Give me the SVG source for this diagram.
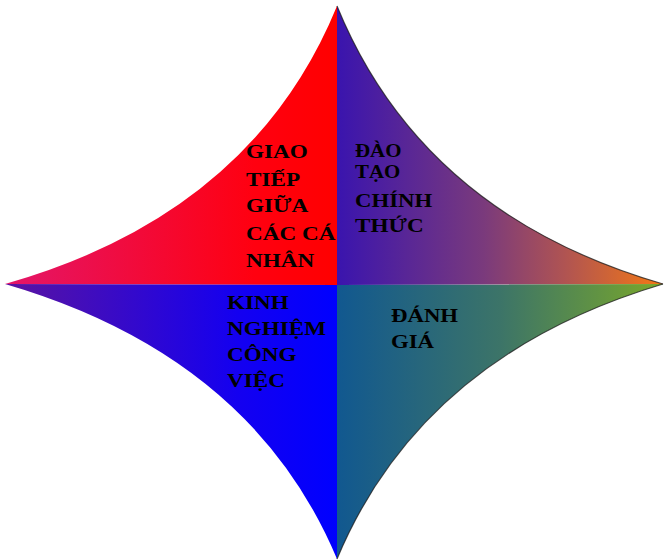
<svg xmlns="http://www.w3.org/2000/svg" width="664" height="560" viewBox="0 0 664 560">
  <defs>
    <linearGradient id="gTL" gradientUnits="userSpaceOnUse" x1="5" y1="0" x2="337" y2="0">
      <stop offset="0" stop-color="#e3166a"/>
      <stop offset="0.75" stop-color="#ff0010"/>
      <stop offset="1" stop-color="#ff0000"/>
    </linearGradient>
    <linearGradient id="gTR" gradientUnits="userSpaceOnUse" x1="337" y1="0" x2="663" y2="0">
      <stop offset="0" stop-color="#3a14ae"/>
      <stop offset="0.45" stop-color="#7a3a7c"/>
      <stop offset="0.7" stop-color="#b05452"/>
      <stop offset="1" stop-color="#f47814"/>
    </linearGradient>
    <linearGradient id="gBL" gradientUnits="userSpaceOnUse" x1="5" y1="0" x2="337" y2="0">
      <stop offset="0" stop-color="#5a14a0"/>
      <stop offset="0.7" stop-color="#1400f0"/>
      <stop offset="1" stop-color="#0000ff"/>
    </linearGradient>
    <linearGradient id="gBR" gradientUnits="userSpaceOnUse" x1="337" y1="0" x2="663" y2="0">
      <stop offset="0" stop-color="#115890"/>
      <stop offset="0.5" stop-color="#3c7468"/>
      <stop offset="1" stop-color="#7aa82a"/>
    </linearGradient>
  </defs>
  <style>
    .lbl { font-family: "Liberation Serif", "Times New Roman", serif; font-weight: bold; font-size: 19px; fill: #000000; }
    .edge { fill: none; stroke: #1a1a1a; stroke-width: 1.2; stroke-opacity: 0.75; }
  </style>
  <rect width="664" height="560" fill="#ffffff"/>

  <g id="node-giao-tiep">
    <path d="M337,285 L5,284 Q252,214 337,6 Z" fill="url(#gTL)"/>
    <text class="lbl" transform="matrix(1.22 0 0 1 246 158)">GIAO</text>
    <text class="lbl" transform="matrix(1.22 0 0 1 246 186)">TIẾP</text>
    <text class="lbl" transform="matrix(1.22 0 0 1 246 212)">GIỮA</text>
    <text class="lbl" transform="matrix(1.22 0 0 1 246 240)">CÁC CÁ</text>
    <text class="lbl" transform="matrix(1.22 0 0 1 246 267)">NHÂN</text>
  </g>

  <g id="node-dao-tao">
    <path d="M337,285 L337,6 Q422,214 663,284 Z" fill="url(#gTR)"/>
    <path class="edge" d="M337,6 Q422,214 663,284"/>
    <text class="lbl" transform="matrix(1.1 0 0 1 355 157)">ĐÀO</text>
    <text class="lbl" transform="matrix(1.1 0 0 1 355 178)">TẠO</text>
    <text class="lbl" transform="matrix(1.2 0 0 1 355 207)">CHÍNH</text>
    <text class="lbl" transform="matrix(1.22 0 0 1 355 232)">THỨC</text>
  </g>

  <g id="node-kinh-nghiem">
    <path d="M337,285 L337,559 Q252,356 5,284 Z" fill="url(#gBL)"/>
    <text class="lbl" transform="matrix(1.22 0 0 1 227 309)">KINH</text>
    <text class="lbl" transform="matrix(1.22 0 0 1 227 335)">NGHIỆM</text>
    <text class="lbl" transform="matrix(1.22 0 0 1 227 361)">CÔNG</text>
    <text class="lbl" transform="matrix(1.22 0 0 1 227 387)">VIỆC</text>
  </g>

  <g id="node-danh-gia">
    <path d="M337,285 L663,284 Q422,356 337,559 Z" fill="url(#gBR)"/>
    <path class="edge" d="M663,284 Q422,356 337,559"/>
    <text class="lbl" transform="matrix(1.2 0 0 1 391 322)">ĐÁNH</text>
    <text class="lbl" transform="matrix(1.2 0 0 1 391 348)">GIÁ</text>
  </g>
</svg>
